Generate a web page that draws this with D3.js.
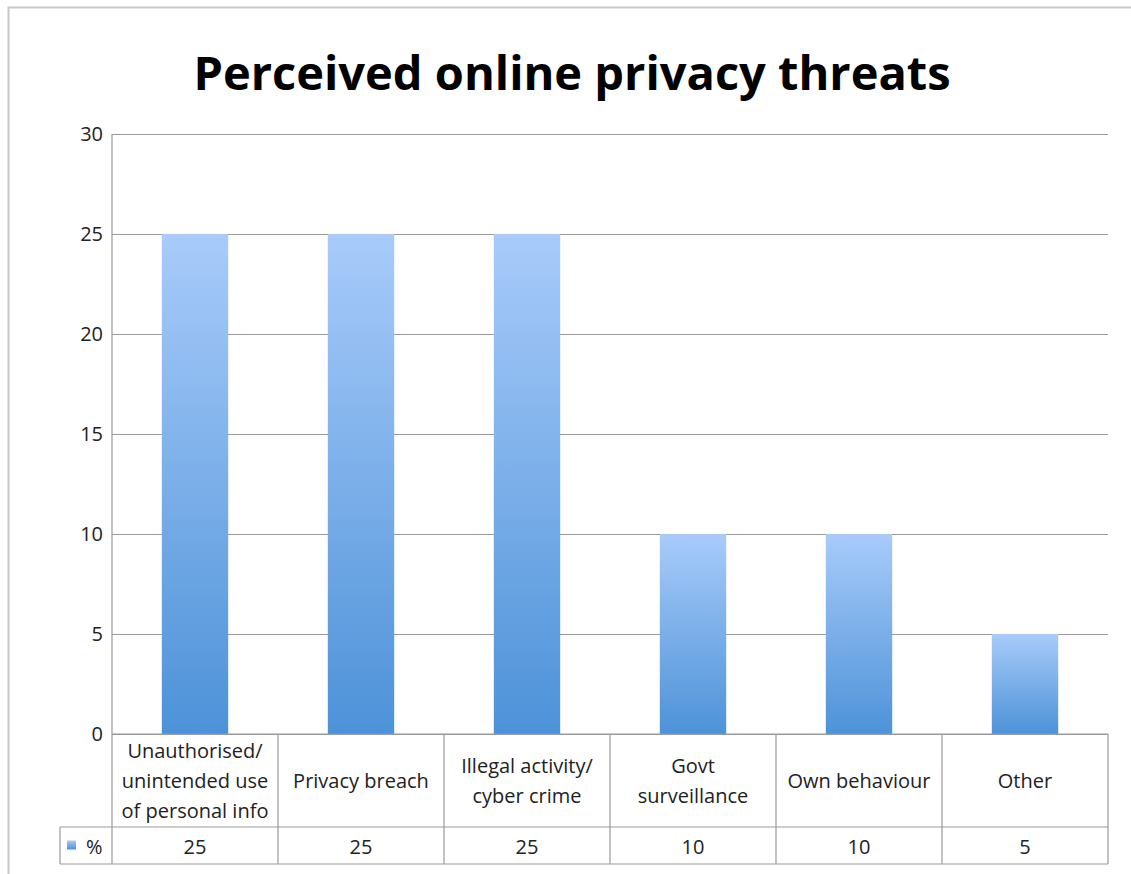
<!DOCTYPE html>
<html>
<head>
<meta charset="utf-8">
<script src="https://cdn.jsdelivr.net/npm/d3@7"></script>
<style>
  html, body { margin: 0; padding: 0; background: #fff; }
  svg { display: block; }
</style>
</head>
<body>
<svg id="chart" width="1131" height="874"></svg>
<script>
// Survey responses: perceived online privacy threats (%)
const categories = [
  ["Unauthorised/", "unintended use", "of personal info"],
  ["Privacy breach"],
  ["Illegal activity/", "cyber crime"],
  ["Govt", "surveillance"],
  ["Own behaviour"],
  ["Other"]
];
const percentValues = [25, 25, 25, 10, 10, 5];
const yTicks = [0, 5, 10, 15, 20, 25, 30];
const seriesName = "%";
const chartTitle = "Perceived online privacy threats";

const svg = d3.select("#chart");
const font = "'Open Sans', 'Noto Sans', sans-serif";
const textSize = 20;

const plot = { left: 112, right: 1108, top: 134, bottom: 734 };
const labelRowBottom = 827;
const dataRowBottom = 864;
const legendLeft = 60;

// Outer chart frame
svg.append("rect")
  .attr("x", 8.5).attr("y", 7.5)
  .attr("width", 1140).attr("height", 900)
  .attr("fill", "#fff").attr("stroke", "#c8c8c8").attr("stroke-width", 2);

// Title
svg.append("text")
  .attr("x", 572).attr("y", 90)
  .attr("text-anchor", "middle")
  .attr("font-family", font)
  .attr("font-weight", "bold")
  .attr("font-size", 47)
  .attr("fill", "#000")
  .text(chartTitle);

const idx = d3.range(categories.length);
const x = d3.scaleBand().domain(idx).range([plot.left, plot.right]).paddingInner(0).paddingOuter(0);
const y = d3.scaleLinear().domain([0, 30]).range([plot.bottom, plot.top]);

// Bar gradient
const defs = svg.append("defs");
const grad = defs.append("linearGradient")
  .attr("id", "barGrad").attr("x1", 0).attr("y1", 0).attr("x2", 0).attr("y2", 1);
grad.append("stop").attr("offset", "0%").attr("stop-color", "#a8cbfa");
grad.append("stop").attr("offset", "100%").attr("stop-color", "#4d92d8");

// Gridlines via the y axis
const yAxis = d3.axisLeft(y).tickValues(yTicks).tickSize(-(plot.right - plot.left)).tickPadding(10);
const gy = svg.append("g").attr("transform", `translate(${plot.left},0)`).call(yAxis);
gy.select(".domain").remove();
gy.selectAll(".tick line").attr("stroke", "#9a9a9a").attr("stroke-width", 1.2);
gy.selectAll(".tick text")
  .attr("font-family", font).attr("font-size", textSize).attr("fill", "#222")
  .attr("x", -9);

// Left plot border
svg.append("line")
  .attr("x1", plot.left).attr("x2", plot.left)
  .attr("y1", plot.top).attr("y2", dataRowBottom)
  .attr("stroke", "#9a9a9a").attr("stroke-width", 1.2);

// Bars
const barW = x.bandwidth() * 0.4;
svg.append("g").selectAll("rect")
  .data(idx)
  .join("rect")
  .attr("x", i => x(i) + (x.bandwidth() - barW) / 2)
  .attr("y", i => y(percentValues[i]))
  .attr("width", barW)
  .attr("height", i => y(0) - y(percentValues[i]))
  .attr("fill", "url(#barGrad)");

// Data table
const table = svg.append("g").attr("stroke", "#9a9a9a").attr("stroke-width", 1.2);
table.append("line").attr("x1", plot.left).attr("x2", plot.right).attr("y1", plot.bottom).attr("y2", plot.bottom);
table.append("line").attr("x1", legendLeft).attr("x2", plot.right).attr("y1", labelRowBottom).attr("y2", labelRowBottom);
table.append("line").attr("x1", legendLeft).attr("x2", plot.right).attr("y1", dataRowBottom).attr("y2", dataRowBottom);
table.append("line").attr("x1", legendLeft).attr("x2", legendLeft).attr("y1", labelRowBottom).attr("y2", dataRowBottom);
table.selectAll(".sep")
  .data(idx)
  .join("line")
  .attr("x1", i => x(i) + x.bandwidth()).attr("x2", i => x(i) + x.bandwidth())
  .attr("y1", plot.bottom).attr("y2", dataRowBottom);

// Category labels
const lineH = 30;
const labelMid = (plot.bottom + labelRowBottom) / 2;
svg.append("g").selectAll("text")
  .data(idx)
  .join("text")
  .attr("font-family", font).attr("font-size", textSize).attr("fill", "#222")
  .attr("text-anchor", "middle")
  .each(function (i) {
    const lines = categories[i];
    const t = d3.select(this);
    const startY = labelMid - (lines.length - 1) * lineH / 2 + 7;
    lines.forEach((ln, k) => {
      t.append("tspan")
        .attr("x", x(i) + x.bandwidth() / 2)
        .attr("y", startY + k * lineH)
        .text(ln);
    });
  });

// Value row
const dataMid = (labelRowBottom + dataRowBottom) / 2;
svg.append("g").selectAll("text")
  .data(idx)
  .join("text")
  .attr("x", i => x(i) + x.bandwidth() / 2)
  .attr("y", dataMid + 8)
  .attr("font-family", font).attr("font-size", textSize).attr("fill", "#222")
  .attr("text-anchor", "middle")
  .text(i => percentValues[i]);

// Legend key in the table
svg.append("rect")
  .attr("x", 67).attr("y", dataMid - 5)
  .attr("width", 9).attr("height", 9)
  .attr("fill", "url(#barGrad)");
svg.append("text")
  .attr("x", 86).attr("y", dataMid + 8)
  .attr("font-family", font).attr("font-size", textSize).attr("fill", "#222")
  .text(seriesName);
</script>
</body>
</html>
